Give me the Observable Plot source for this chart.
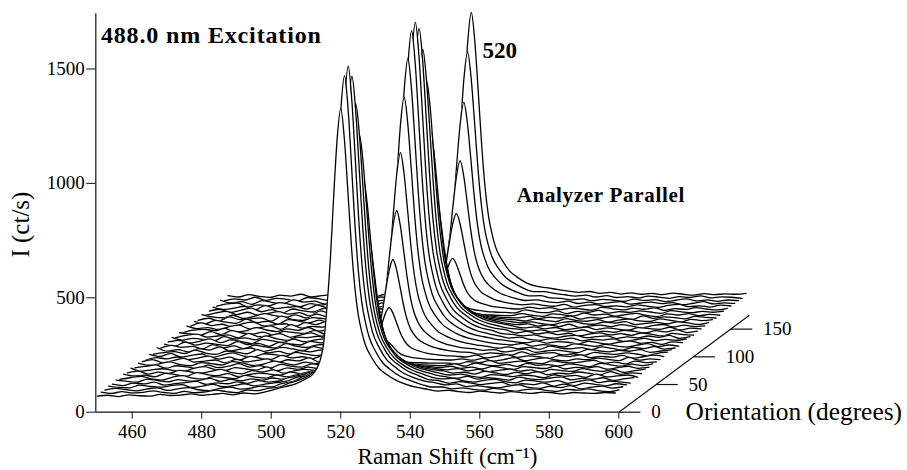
<!DOCTYPE html>
<html><head><meta charset="utf-8">
<style>html,body{margin:0;padding:0;background:#fff}
.wide1 text{letter-spacing:.85px}
.wide2 text{letter-spacing:.7px}</style>
<script src="https://cdn.jsdelivr.net/npm/d3@7"></script>
<script src="https://cdn.jsdelivr.net/npm/@observablehq/plot@0.6"></script>
</head><body><div id="chart"></div>
<script>
// Raman shift sample positions (cm-1)
const shifts = [450,453,456,459,462,465,468,471,474,477,480,483,486,489,492,495,498,501,504,507,510,
 512,514,515,516,517,518,519,520,521,522,523,524,525,526,527,529,531,533,536,539,
 542,545,548,551,554,557,560,563,566,569,572,575,578,581,584,587,590,593,596,599];
const xTicks = [460,480,500,520,540,560,580,600];
const yTicks = [0,500,1000,1500];
const depthTicks = [0,50,100,150];
// Intensity (ct/s) read per orientation
const t0=[70,74,68,76,72,70,78,73,75,80,74,78,82,76,84,80,88,100,112,124,146,167,223,292,454,666,953,1202,1327,1202,978,741,554,429,354,298,236,192,167,139,121,108,100,92,96,90,86,92,88,84,90,86,82,88,85,80,86,84,82,86,84];
const t5=[76,70,78,72,75,81,74,70,79,73,77,84,78,73,85,82,92,96,115,128,150,177,239,314,494,728,1045,1321,1459,1321,1073,811,604,466,383,321,252,204,177,145,126,110,98,98,90,94,88,84,92,86,80,87,90,83,79,88,84,90,82,78,86];
const t10=[72,80,75,69,77,82,71,78,83,74,70,80,86,77,81,90,86,102,110,131,148,179,242,319,502,742,1066,1347,1488,1347,1094,826,615,474,390,326,256,207,179,146,126,112,104,95,100,88,92,86,82,90,95,84,80,89,83,92,78,85,90,81,87];
const t15=[78,72,70,82,76,73,80,84,72,78,85,75,80,88,79,86,93,98,116,126,152,175,235,310,486,715,1026,1297,1432,1297,1053,797,594,459,377,317,249,202,175,144,125,106,102,90,97,92,84,90,94,81,88,84,92,78,86,80,91,85,79,88,83];
const t20=[74,68,79,75,83,70,76,81,86,73,80,76,84,78,90,83,88,104,108,122,144,165,220,287,446,653,934,1178,1300,1178,958,727,544,422,348,294,232,190,165,137,120,104,97,100,88,83,91,95,85,80,92,87,83,90,78,86,93,81,88,84,79];
const t25=[80,75,71,84,78,72,82,75,79,87,74,83,77,85,80,89,84,94,106,118,136,155,203,262,401,583,829,1043,1150,1043,850,647,487,380,315,267,214,176,155,130,115,102,94,88,96,84,90,86,80,93,85,82,89,94,81,87,83,90,78,85,91];
const t30=[71,78,84,73,68,80,87,76,72,83,79,74,88,81,76,90,82,91,100,112,126,141,180,228,341,489,689,863,950,863,706,541,411,324,271,232,189,158,141,121,109,98,90,94,85,80,92,88,83,90,86,78,91,84,88,80,94,82,86,90,80];
const t35=[82,74,77,70,85,79,72,88,80,75,84,71,79,86,82,77,91,84,95,104,114,125,154,189,272,381,528,656,720,656,541,419,323,259,221,192,160,138,125,110,101,96,86,90,82,94,87,80,89,84,92,79,86,83,91,85,78,93,81,87,84];
const t40=[75,83,70,78,73,86,80,74,82,90,76,71,85,79,88,74,84,90,86,98,104,109,128,151,206,277,374,458,500,458,382,303,240,198,172,154,133,118,109,100,94,88,94,84,90,80,86,92,83,88,78,90,85,81,94,86,82,89,77,85,92];
const t45=[84,70,76,81,74,68,83,90,78,73,86,80,75,89,72,85,78,88,82,92,90,95,105,117,146,183,234,278,300,278,238,197,164,142,128,119,108,100,95,90,87,92,83,88,80,91,85,78,90,86,82,93,80,87,84,90,79,86,92,83,88];
const t50=[73,79,86,71,82,77,70,85,74,80,91,76,83,72,88,80,76,90,84,79,86,86,90,95,107,122,143,161,170,161,145,128,114,105,100,96,91,88,86,84,83,90,80,94,86,82,88,79,92,84,87,81,90,85,78,93,86,80,89,83,90];
const t55=[81,72,78,87,75,70,84,79,73,88,82,71,77,90,81,74,86,79,92,76,84,82,83,85,89,94,101,107,110,107,102,96,91,88,87,85,84,83,82,81,81,78,88,84,92,80,86,90,83,79,91,85,82,88,94,81,86,78,90,84,87];
const t60=[76,85,71,80,90,74,78,83,70,86,75,81,88,73,84,79,92,74,86,82,88,86,90,95,107,121,141,159,168,159,144,127,113,104,100,96,91,88,86,84,83,88,82,90,78,85,93,80,87,92,83,79,88,84,91,86,80,94,82,88,85];
const t65=[70,81,76,84,72,79,88,75,83,71,87,78,74,91,80,85,77,89,83,94,92,95,105,117,146,183,234,278,300,278,238,197,164,142,128,119,108,100,95,90,88,84,92,80,87,94,82,89,85,78,90,86,93,81,87,83,91,79,85,92,86];
const t70=[83,74,88,72,79,85,70,81,90,76,73,86,82,75,92,84,78,88,94,100,106,109,128,151,205,276,373,456,498,456,381,302,239,197,172,153,132,118,109,100,94,92,84,90,86,80,94,83,88,91,81,86,79,92,87,83,90,85,78,88,93];
const t75=[72,79,83,75,90,77,71,86,81,74,92,78,84,73,88,82,90,92,98,108,112,123,151,185,266,371,514,638,700,638,526,409,316,254,216,189,158,136,123,109,100,96,89,92,82,88,94,80,86,90,84,79,93,87,82,89,85,92,80,86,91];
const t80=[88,73,80,70,84,78,92,74,82,87,71,79,90,83,76,93,85,90,100,114,124,140,179,226,338,485,683,855,941,855,700,536,407,321,269,231,188,157,140,120,108,100,94,86,92,84,90,81,95,87,83,89,80,92,85,78,90,84,93,82,87];
const t85=[74,86,78,82,71,90,76,84,72,88,80,75,94,82,77,89,91,96,108,122,140,156,205,265,407,593,844,1062,1171,1062,866,658,495,385,320,271,216,178,156,131,116,106,97,92,88,95,83,90,86,80,93,88,82,91,84,79,87,94,81,88,83];
const t90=[80,71,89,75,84,79,73,91,78,83,70,87,81,76,92,85,94,100,114,128,150,167,223,292,454,666,953,1202,1328,1202,978,741,554,429,354,298,236,192,167,139,121,112,102,96,90,86,94,84,91,88,81,92,85,80,89,93,83,87,79,90,86];
const t95=[77,84,72,80,91,74,86,79,70,88,82,75,90,78,85,92,96,102,118,132,154,175,236,311,487,718,1031,1302,1438,1302,1058,800,596,460,379,318,250,202,175,144,125,114,104,94,98,88,84,92,87,94,82,89,85,91,80,86,93,83,88,84,90];
const t100=[85,73,81,76,69,88,78,83,74,92,79,72,86,84,90,80,94,106,116,128,152,177,239,315,495,730,1047,1324,1462,1324,1075,812,605,467,384,322,253,204,177,145,126,116,101,98,92,96,86,82,90,94,84,88,92,80,87,83,91,85,94,81,88];
const t105=[72,82,87,74,79,84,71,90,76,81,89,73,84,93,78,88,90,100,112,126,146,174,234,308,483,711,1020,1289,1423,1289,1047,792,590,456,375,315,248,201,174,143,124,112,106,92,99,88,94,85,91,80,87,93,84,89,82,92,86,79,90,85,83];
const t110=[81,76,70,86,73,90,80,75,84,71,87,82,78,91,75,85,92,96,110,124,148,167,223,291,452,663,948,1196,1320,1196,973,737,551,427,353,297,235,192,167,138,121,110,100,96,89,94,84,90,86,93,81,88,83,92,87,80,90,85,94,82,88];
const t115=[70,80,84,78,88,72,77,91,81,74,86,79,92,76,83,90,86,98,106,118,136,156,205,265,407,593,844,1062,1170,1062,866,658,495,385,320,271,216,178,156,131,116,108,98,90,95,86,92,82,88,94,83,90,85,80,91,87,84,93,81,89,86];
const t120=[86,75,79,71,83,90,74,80,87,72,92,77,85,81,94,78,90,92,102,112,122,140,179,226,338,485,683,855,940,855,700,536,407,321,269,231,188,157,140,120,108,98,92,96,86,91,84,94,80,87,90,83,92,86,79,88,93,82,90,84,87];
const t125=[73,88,76,82,70,85,91,75,79,84,72,89,80,93,77,86,82,90,96,104,114,123,151,185,266,371,514,638,700,638,526,409,316,254,216,189,158,136,123,109,100,94,88,92,84,80,90,94,85,82,91,87,93,80,86,90,84,92,88,81,89];
const t130=[82,71,87,79,74,92,77,83,70,90,84,76,88,74,91,80,94,85,90,98,102,109,127,150,204,274,369,451,490,451,376,298,236,196,170,152,132,117,108,99,93,90,84,92,87,81,94,86,83,90,79,88,92,85,82,93,87,80,91,86,90];
const t135=[75,84,72,90,78,81,86,71,93,79,74,87,82,76,89,84,78,92,86,90,88,95,105,117,146,183,234,278,300,278,238,197,164,142,128,119,108,100,95,90,87,86,92,82,89,85,93,80,88,84,91,86,79,94,83,90,87,81,92,88,85];
const t140=[88,78,74,85,71,80,92,83,76,87,73,90,79,84,92,75,86,81,90,84,80,86,90,95,107,122,143,161,170,161,145,128,114,105,100,96,91,88,86,84,83,92,85,80,91,87,82,94,86,90,81,88,93,84,79,91,86,92,83,89,85];
const t145=[72,83,90,76,86,74,81,89,78,84,70,92,80,86,75,90,83,88,79,92,86,87,92,97,110,127,151,171,181,171,153,134,118,108,102,98,93,89,87,85,83,96,88,84,92,80,90,86,94,82,89,85,92,87,81,93,88,84,90,86,91];
const t150=[79,87,73,82,92,76,85,71,88,80,75,91,84,78,93,81,90,86,92,88,94,96,106,119,149,188,240,286,309,286,245,201,167,144,130,120,109,101,96,91,88,96,90,94,85,92,88,83,95,89,84,92,87,93,82,90,86,94,88,84,91];
const t155=[84,74,80,88,72,91,78,83,86,75,93,80,76,89,82,92,85,94,88,100,106,109,127,150,204,274,369,452,493,452,377,299,237,196,171,152,132,117,109,99,94,98,92,88,96,84,92,95,86,90,85,94,88,83,92,96,86,90,84,93,89];
const t160=[76,86,90,73,82,78,92,84,74,87,81,90,77,93,84,79,91,88,96,106,114,124,153,187,270,377,522,649,712,649,535,415,320,257,219,191,159,137,124,110,101,104,96,92,98,88,94,86,92,96,85,90,94,87,92,83,89,96,86,91,88];
const t165=[90,78,84,72,88,80,75,92,82,86,74,90,84,79,94,86,92,90,102,114,124,141,181,229,343,491,693,868,955,868,710,544,413,325,273,233,189,159,141,121,109,110,100,98,92,96,88,94,90,85,95,89,93,84,90,96,87,92,85,91,88];
const t170=[75,84,79,91,77,86,82,73,90,85,78,94,80,87,83,92,88,96,108,120,138,156,204,264,405,589,837,1054,1162,1054,859,653,491,383,318,269,215,177,156,131,116,116,108,102,96,100,92,98,90,94,88,96,92,86,94,90,97,88,93,91,86];
const t175=[86,80,90,83,78,88,84,92,80,86,90,82,94,86,80,91,88,102,112,128,146,167,223,292,454,666,953,1200,1324,1200,978,741,554,429,354,298,238,194,169,141,126,120,112,106,100,104,96,100,93,98,92,96,90,97,92,88,95,90,94,92,96];
const orientations = [0,5,10,15,20,25,30,35,40,45,50,55,60,65,70,75,80,85,90,95,100,105,110,115,120,125,130,135,140,145,150,155,160,165,170,175];
const intensities = [t0,t5,t10,t15,t20,t25,t30,t35,t40,t45,t50,t55,t60,t65,t70,t75,t80,t85,t90,t95,t100,t105,t110,t115,t120,t125,t130,t135,t140,t145,t150,t155,t160,t165,t170,t175];

// oblique projection of the orientation axis into the x/y scales
const kx = 0.2146, ky = 2.42;
const xMin = 449.53, yAxisTop = 1742;

const traceMarks = [];
for (let k = orientations.length - 1; k >= 0; k--) {
  const d = orientations[k];
  const rows = shifts.map((s, i) => ({x: s + kx * d, base: ky * d, top: ky * d + intensities[k][i]}));
  traceMarks.push(
    Plot.areaY(rows, {x: "x", y1: "base", y2: "top", fill: "white", curve: "monotone-x"}),
    Plot.line(rows, {x: "x", y: "top", stroke: "#000", strokeWidth: 1.3, curve: "monotone-x"})
  );
}
const dRows = depthTicks.map(d => ({d, x: 600 + kx * d, y: ky * d}));
const serif = "'Liberation Serif','Times New Roman',serif";

const chart = Plot.plot({
  width: 907, height: 470,
  marginTop: 0, marginLeft: 95.3, marginRight: 0, marginBottom: 58.3,
  style: {fontFamily: serif, background: "#fff", color: "#000"},
  x: {domain: [xMin, 683.05], range: [95.3, 907], label: null},
  y: {domain: [0, 1799.4], range: [411.7, 0], label: null},
  marks: [
    ...traceMarks,
    Plot.ruleX([xMin], {y1: 0, y2: yAxisTop, stroke: "#111", strokeWidth: 1.2}),
    Plot.ruleY([0], {x1: xMin, x2: 600, stroke: "#111", strokeWidth: 1.2}),
    Plot.axisX({ticks: xTicks, tickSize: 7, tickPadding: 5, fontSize: 19, tickFormat: "d", label: null, stroke: "#111"}),
    Plot.axisY({ticks: yTicks, tickSize: 9, tickPadding: 2, fontSize: 19, tickFormat: "d", label: null, stroke: "#111"}),
    Plot.link([0], {x1: 600, y1: 0, x2: 600 + kx * 175, y2: ky * 175, stroke: "#111", strokeWidth: 1.2}),
    Plot.link(dRows, {x1: "x", y1: "y", x2: r => r.x + 6.2, y2: "y", stroke: "#111", strokeWidth: 1.2}),
    Plot.text(dRows, {x: r => r.x + 9.3, y: "y", text: "d", textAnchor: "start", fontSize: 19}),
    Plot.text(["488.0 nm Excitation"], {x: 451, y: 1646, text: d => d, textAnchor: "start", fontWeight: "bold", fontSize: 24, className: "wide1"}),
    Plot.text(["520"], {x: 560.8, y: 1581, text: d => d, textAnchor: "start", fontWeight: "bold", fontSize: 23}),
    Plot.text(["Analyzer Parallel"], {x: 570.6, y: 947, text: d => d, textAnchor: "start", fontWeight: "bold", fontSize: 21, className: "wide2"}),
    Plot.text(["Orientation (degrees)"], {x: 619.2, y: 3, text: d => d, textAnchor: "start", fontSize: 25.4}),
    Plot.text(["Raman Shift (cm⁻¹)"], {x: 550.7, y: -195, text: d => d, fontSize: 23}),
    Plot.text(["I (ct/s)"], {x: 447, y: 820, dx: -66, text: d => d, rotate: -90, fontSize: 25})
  ]
});
document.getElementById("chart").appendChild(chart);
</script></body></html>
